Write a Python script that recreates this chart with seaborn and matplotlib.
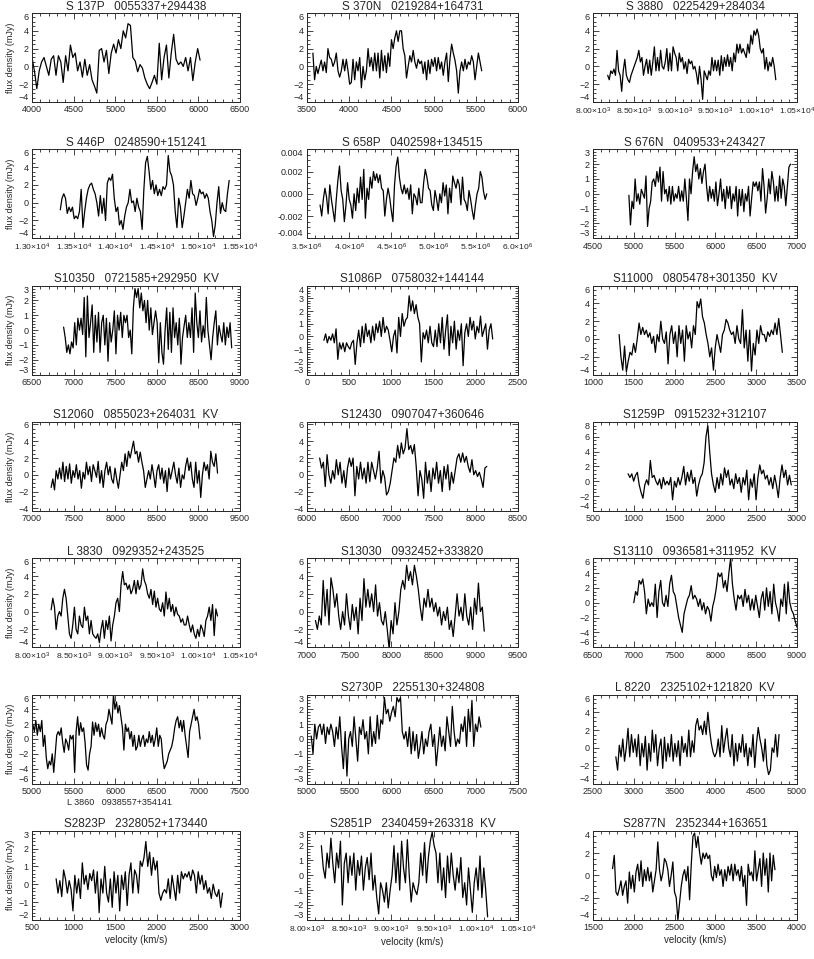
import numpy as np
import pandas as pd
import matplotlib
matplotlib.use('Agg')
import matplotlib.pyplot as plt
import seaborn as sns
from matplotlib.ticker import FuncFormatter, AutoMinorLocator, MultipleLocator, FormatStrFormatter

############## panel titles, velocity windows and axis ranges ##############

titles = ['S 137P   0055337+294438', 'S 370N   0219284+164731', 'S 3880   0225429+284034',
          'S 446P   0248590+151241', 'S 658P   0402598+134515', 'S 676N   0409533+243427',
          'S10350   0721585+292950  KV', 'S1086P   0758032+144144', 'S11000   0805478+301350  KV',
          'S12060   0855023+264031  KV', 'S12430   0907047+360646', 'S1259P   0915232+312107',
          'L 3830   0929352+243525', 'S13030   0932452+333820', 'S13110   0936581+311952  KV',
          'L 3860   0938557+354141', 'S2730P   2255130+324808', 'L 8220   2325102+121820  KV',
          'S2823P   2328052+173440', 'S2851P   2340459+263318  KV', 'S2877N   2352344+163651']

vel_start = [4000, 3570, 8180, 13340, 3.655e6, 4940, 6880, 200, 1320, 7230, 6150, 930,
             8230, 7100, 7000, 5010, 5050, 2780, 790, 8170, 1740]
vel_end = [6020, 5570, 10240, 15370, 5.63e6, 6920, 8900, 2200, 3320, 9230, 8130, 2930,
           10230, 9100, 9000, 7020, 7060, 4780, 2790, 10140, 3730]

xlims = [(4000, 6500), (3500, 6000), (8000, 10500), (13000, 15500), (3.5e6, 6.0e6), (4500, 7000),
         (6500, 9000), (0, 2500), (1000, 3500), (7000, 9500), (6000, 8500), (500, 3000),
         (8000, 10500), (7000, 9500), (6500, 9000), (5000, 7500), (5000, 7500), (2500, 5000),
         (500, 3000), (8000, 10500), (1500, 4000)]
ylims = [(-4, 6), (-4, 6), (-4, 6), (-4, 6), (-0.004, 0.004), (-3, 3),
         (-3, 3), (-3, 4), (-4, 6), (-4.3, 6.3), (-4.3, 6.3), (-4, 8),
         (-4, 6), (-4, 6), (-6, 6), (-6, 6), (-3, 3), (-4, 6),
         (-2, 3), (-3, 3), (-4, 4)]
ystep = [2, 2, 2, 2, 0.002, 1, 1, 1, 2, 2, 2, 2, 2, 2, 2, 2, 1, 2, 1, 1, 2]
# x tick style: 0 = plain, 2 = 'd.dd x10^n', 1 = 'd.d x10^n'
xsci = [0, 0, 2, 2, 1, 0, 0, 0, 0, 0, 0, 0, 2, 0, 0, 0, 0, 0, 0, 2, 0]

############## flux density values (mJy) ##############

flux_s137p = [1, -0.5, -2.5, -0.5, 0.5, 1, 0, -1, 0.8, 1.2, -1, 1.2, 0.5, -1.8, 1.2, -0.5, 2.4, 1, 1.5,
              -0.5, 0.5, -1.2, 0.8, -1, 0.2, -1.5, -2.2, -3, 1.8, 2, 0.5, 1.8, -0.8, 1.5, 2.5, 1.5, 3,
              2, 4, 3.2, 4.8, 4.6, 1, 0.6, -0.6, 0.2, -0.2, -1.3, -2, -2.5, -1.8, -1, -2, 2.6, -1.5, 1,
              2.4, -1.3, 1.5, 3.6, 0.8, 0.2, 0.5, 0, 1, -0.5, 1, -1.6, 0.5, 2, 0.7]
flux_s370n = [1.5, -1.5, 0, -0.8, 0, 0.7, -0.5, 0.5, -0.7, 2, 1, 0.8, 0, 0.5, 1.5, -0.5, -1.2, -0.5,
              0.8, -0.5, 0.8, -0.5, -2, -1.8, 0.8, -1.5, 0.5, -0.5, 1, -2.4, 0, -1.5, -0.5, 2, 0, 1,
              -0.5, 1.5, -0.5, 1.5, -1.3, 1.8, -0.5, 1.2, -0.7, 1.5, 0, 3, 2, 3.2, 4, 2.8, 4, 4, 2, 1.2,
              -1.3, 0, 1.2, 0.5, 1.8, 0.5, -0.2, 0.8, 0.3, 0.6, -0.8, 0.5, -1.5, 0.7, -0.8, 0.8, 0, 1,
              -0.5, 1, -0.3, 0.5, -1, 0.5, 1.5, -1.7, 0.8, 2.5, 1.5, 0.7, -0.5, -3, -0.5, 0.5, -0.5,
              0.8, -0.3, 0.5, 0.2, 1.2, 0.5, -1.5, 0, 1.5, 0.5, -0.5]
flux_s3880 = [-1, -1.5, -0.5, -0.8, -0.3, -1, 1.8, -0.5, -1, -2.8, -0.5, 0.8, -1, -1.5, -1.8, -1, -0.5,
              0, 0.5, 1, 1.8, 0.5, 1, -1, 0, 0.8, -0.8, 0.7, -1, 0.5, 2.2, -0.5, 1, -0.5, 1.8, 0, -0.3,
              0.5, 2, -0.5, 1.5, -0.5, 2.2, 1.5, 1, -0.5, 1.5, 0.5, 1, -0.3, 0.5, -0.8, 0.8, 0.3, 0.6,
              -0.3, 0, -0.8, -2, 0, -1.5, -3.7, -0.5, -1, -1.5, -0.5, -1, 1, -0.5, 0.7, -0.5, 0.7, -1,
              1.2, -0.5, 1, 0, 1.3, 0, 1, -0.5, 1.5, 0.5, 2.5, 1.5, 2.5, 1.5, 2, 1.5, 1, 2.5, 1.5, 3.5,
              2.5, 4, 3.5, 4.2, 3.5, 2, 1.5, 2, -0.3, 1, -0.5, 0.5, 0, 1, 0, -1.5]
flux_s446p = [-0.8, 0.5, 1, 0.5, -1.2, -0.5, -1, -0.5, -1.8, -1.5, -1.8, -1, 1.5, -2.8, -1, 0.5, 1.5, 2,
              2.2, 1.5, 1, 0, -1.5, 0.8, -1.2, 0.5, -2, 2.2, 2.8, 2.5, 3.2, 0.5, -1, -0.5, -2.5, -2, -3,
              -1.5, -0.5, 0, 1.5, 0, 0.2, -1, 0.5, -0.5, -1, -3, 1.5, 4.5, 5.2, 3.5, 1.5, 2.5, 1, 2, 0.8,
              1.5, 0.8, 1.8, 1.5, 2, 5.3, 3.5, 3, 2, -1, -2.8, 0.5, -0.5, -2.8, -1.5, 0, 1.5, 0.5, 2.5,
              1, 0.8, -0.3, 0.5, 1.5, 1, 1.2, 0.5, 1, 0.5, -1, -2, -3.8, -2.5, 0, 1.8, -1.2, 0, -0.8,
              -1, 1, 2.5]
flux_s658p_milli = [-1, -2, -0.5, 0.5, -0.3, -1.8, 0.8, -0.5, -1.5, -2.5, -0.5, 1.2, 2.5, 0.3, -0.5,
                    -2.5, -1, 1, -0.5, -1, -2.2, 0, -1.5, 0.5, -0.8, 1.5, -0.5, 2.2, -2.2, 0.5, -0.5,
                    1.5, 0.5, 2, 1.2, 1.8, 1, 1.7, 0.5, 0.3, -2, -0.5, 0.5, -0.3, -1.5, -2.5, 0.8, 2.5,
                    3.3, 1.5, 0.5, 0, 0.8, 0, 0.5, -0.5, 0.8, -1.8, 0, -0.3, -1, 0.5, -0.8, -0.8, 1,
                    2.2, 1.5, 0.5, 0.3, -1, -1.5, 0.3, -0.5, -1.5, 0, -0.8, 1, -0.2, 0.8, -1.8, 0.5,
                    -0.8, 1.6, 1, 0.5, 1.3, 0.8, -1, 1.5, -0.5, -0.8, -1.5, 0.3, -0.5, -1.5, -2.3, -1,
                    0, 0.5, 2, 1.5, 0.2, -0.5, 0]
flux_s676n = [-0.1, -2.1, -0.5, -1, 1, -0.5, 0, -0.7, 0.3, 0, -0.3, 1.2, -2.2, -1, -0.5, 0.8, 1, 0.5,
              1.5, 0.8, 1.8, -0.5, 1.5, 0, 0.3, -0.5, 0.5, -0.7, 0.5, -0.5, 0, -0.3, 0.5, -0.5, 0.2,
              -0.5, 1, -0.3, -1.8, 1, 0, 1.5, 2.5, 1.5, 2, 1, 1.7, 0.7, 1.5, 2, 0.5, -0.5, 0.5, -0.3,
              0.3, -0.5, 0.8, -0.8, 0, 1, -0.5, 0.3, -1, 0.5, -0.3, 0.5, -1, 0, -0.5, 0.5, -1.5, 0.3,
              -0.8, 0.3, -1.2, 0, -0.5, 0.5, -1.5, -0.3, 0.8, 0.5, 0.8, 0.2, 0.8, -0.5, 1.7, 0.5, -1.3,
              -0.3, 1, 0, 1.5, 0.8, -0.5, 0.5, -0.5, 1.2, -0.3, 1, 0.5, -0.8, 0.5, 1.8, 2]
flux_s10350 = [0.2, -0.5, -1.5, -1, -1.6, -0.8, -1.2, 0.5, -1, 0.8, 0, 0.8, -0.3, 2.2, -1.8, 2.3, -0.5,
               0.5, 1.7, -1.5, 1, -0.8, 1.2, -1.5, 0.5, 1, -1, 0.8, -2.1, 0.5, -0.8, 0, 1.3, -1.6, 1, 0,
               1.2, -0.5, 1, 0.5, 1, -0.5, 0, -1.6, 1.5, 2.8, 2.2, 2.8, 1.5, 2.5, 1.3, 2, 0.5, 2, 0, 1.5,
               -0.3, 0.5, 1.3, 0.5, -2.2, 0.5, -1.5, -2.3, 0, 1.5, -1.3, 1.2, -1.5, 1.5, -0.5, 0.5, -1,
               0.8, -2.3, -0.5, 0.3, 1, -0.5, 0.5, -0.5, 1.5, -1.5, 2.5, 0.5, -0.5, 1.3, -0.8, 0.3,
               -0.5, 2.2, 0, -1, -2, -0.5, 0.5, 1.3, -1, 0.3, -0.3, -0.8, 0.5, -1, 0.2, -0.5, 0.5, -1.2]
flux_s1086p = [-0.3, 0.2, -0.5, 0, -0.3, 0.2, -0.5, 0.6, -1.8, -0.5, -1, -0.5, -1.2, -0.5, -0.8, -1,
               -0.5, -0.3, -2.2, -0.5, 0.5, -0.8, 0.8, -0.5, 1, 0, 0.5, -0.5, 0.8, -0.3, 1, 0.3, 1.2, 0,
               1.5, 0.3, 0.8, 0.5, -0.3, -1.2, 0, 0.5, -1.3, 1.5, 0, 1.8, 0.8, 1.3, 1.5, 3.2, 2, 2.8,
               1.8, 2.5, 1.5, 1, -2, 0.3, -0.2, 0.5, -0.5, 0.8, -0.5, -0.8, 0.5, -0.8, 1, -0.5, 1.5, -1,
               0.5, 1.7, -1.5, 0.8, -0.5, 1.2, -1, 0.5, -0.3, 1, -2.3, 0.3, 1, 0, 1.5, 0.5, 1.2, -0.2,
               0.8, 0.3, 1.6, 0, 0.5, 1, -1, 0.5, 1, -0.2]
flux_s11000 = [0.5, -2, -3.5, -0.8, -3.7, -2.5, -1.5, -1.8, -0.5, -1.5, 0, 1.8, 0.5, 1.3, 0.5, 1, 0.2,
               0.7, -0.5, 0.3, -1.5, 0.5, -0.3, 2, 0, -0.5, 0.8, -2.8, 0.5, 1.5, -0.5, 0.8, -2, 1.5,
               -0.5, 1, -2.5, 1.5, 0, 0.8, -1, 1.5, 0.5, 4.2, 3.5, 4.5, 2.5, 1.8, 0.5, -0.5, -2, -1,
               -3.5, -1, 0.5, -0.5, -1.5, 0.5, 1, 2.2, 1.8, 1, 0.5, 0.8, -0.5, 1.5, 0, -0.5, 3.3, -1, 1,
               -2.5, 1, -3.6, -0.5, -1.8, 1, -0.5, 1.5, 0.5, 0.5, -0.3, 0.8, 0.3, 1, 0.5, 1.8, 0.5, 2.3,
               0.5, -1.5]
flux_s12060 = [-1.5, -0.5, -1.8, 0.5, -0.5, 0.8, -0.5, 1.5, -0.8, 1, -0.5, 1.3, -1, 0.5, -0.3, 1.2,
               -0.5, 0.5, -1.6, 0.3, -0.5, 1.5, 0, 1, -0.8, 1.2, 0.5, -0.3, 1.6, -1, 0.5, -1.5, 0.5, 1.5,
               0, 1, -0.5, -1, 0.8, -0.5, -1.6, 0, 1.5, 0.5, 2.5, 1, 2.8, 2, 3, 4, 2.5, 2.8, 1.5, 2.7,
               1.5, 0.5, -1.5, -0.5, 0.5, -0.5, 1.2, 0, -1.5, 0.5, 1.2, -0.5, 0.8, -1, 0.5, -2, 0.8,
               -0.5, 0.5, 1.5, 0, -1, 0.8, -1.5, 0, -0.5, 1, 2, 0.5, 1.5, -0.5, -1.5, 1.5, -1, 0.5, -2.7,
               0, 1.5, 0.5, 1.2, -0.5, 2.8, 1.5, 1, 2.5, 0.2]
flux_s12430 = [2, 0.8, 1.5, -1.4, 2.4, 0, -1, 0.5, -0.5, 1.8, 0, 1.5, -1, 0.5, -1.5, 0.8, 2, 1, 2,
               -2.5, 1, -0.5, 1.5, -0.5, 0.8, -1, 1.5, -0.8, 1.5, 0.5, -0.5, 0.8, 2.8, -1, 0.5, -0.3,
               -2.4, -2, -1, 0.5, 2, 1.5, 3.5, 2, 3.8, 2.5, 3.2, 5.5, 3, 3.5, 2.5, 3.6, 1, -2.5, 0.5,
               -0.5, -2.8, 1.5, -1, 0.5, -2, 0.8, -0.5, 1.5, -1, 0.5, -2, 1, -0.5, 1.2, -1.8, 0.3, -1,
               0.5, 2, 2.5, 1.5, 2.6, 1.5, 2.2, 1, 0.3, 1.8, 0, 0.5, -0.2, 0.3, -0.5, -1.5, 0.8, 1]
flux_s1259p = [1, 0.5, 1, 0, 0.8, 1.2, -0.5, -1.5, -2.3, -0.5, 0.2, -0.5, 2.8, 0.5, 0.8, 0, -0.5, 0.3,
               -1, 0.5, -0.5, 0, -0.5, 0.5, -2.5, 0, -0.8, 0.5, -0.5, 0.5, 2, -0.5, 1.2, 0, 1.5, -0.3,
               0.5, -2, -0.5, 0.5, 1, 2.5, 6, 7.5, 4, 1, -0.5, -1.5, 0.5, -1, 1, -0.5, 1.8, 0.5, 1.5,
               -0.5, 0.3, -1, 1, -0.3, 0.5, -1.5, 0.5, -0.5, 1.5, -2.5, 0.3, -0.8, 1, -2.5, 0.5, 2.2, 1,
               1.5, 0.3, 0.8, -0.5, 0.5, -1, 0.8, -0.5, -2.2, 0.5, 2.2, 0.5, 1.5, -0.5, 0.8, -0.5]
flux_l3830 = [0.2, 1.5, 0.5, -2, -0.5, 0, -0.5, 1.5, 2.5, 1.5, -0.5, -2.5, -3, -1.5, 0.5, -2, -2.5, -0.5,
              -1.5, -1.8, 0.5, -1, -0.5, -2.5, -1, -2.5, -2.8, -3, -2.5, -3.5, -2, -1, -3, -1, -2, -0.5,
              -3.3, -1.5, -0.5, 1, 1.5, 0, 3, 4.5, 3, 3.2, 2.5, 3, 2, 2.5, 3.5, 2, 3.5, 2.5, 3, 4.8,
              3.5, 3, 2, 1.5, 2.5, 0.8, 2.3, 0.5, 1.5, 0.3, 0, 1, -0.5, 2.2, 0.3, 1.5, 0, 0.8, -0.5,
              0.5, -0.3, -0.5, -1.2, -0.8, -1.5, -1.5, -0.5, -1.5, -2.3, -1.5, -2.5, -3, -2, -2.8,
              -1.5, -2, -2.8, -1, -0.5, 0.5, -1, 0.8, -2.7, 0.3, -0.5]
flux_s13030 = [-1, -2, -0.5, -1.5, 3.5, -0.5, 2.5, -1.5, 3.8, 2.5, 0.5, 2, -0.5, -2, 0, -1.5, 2, -0.5,
               -2, 0.8, -1, 0.5, -2.5, 1.5, -1, 3.7, 0.5, 2.5, 0.5, 2, 0, 3, -0.5, 1, -1, -1.5, 0, -2,
               -4.2, -1, -2.5, 1, -1.5, 0, 2.5, 3.5, 2.5, 5.2, 3.5, 4.5, 3, 5.2, 4, 2.5, 0.5, -1, 1.5,
               0.5, 2.5, 0.5, 1.5, 0, 1, -0.5, 0.5, -1.5, 0, -1, 0.5, -2, -1, -2.8, -0.5, 2, -0.5, 0.5,
               -1, 2, -0.5, -1.5, 0.5, -2, 1.5, -0.3, 3.2, 0, 0.5, -2.2]
flux_s13110 = [0, 1.5, 1, 3, 2.5, 3.2, 1.5, -1.5, 0.5, -0.5, 0, -0.5, 2.5, -2, 1.5, 3, 0, -0.5, 1, -0.5,
               2.5, 3.7, 1.5, 1, -0.5, -2, -3, -4, -1.5, -0.5, 0.5, 1, 2.3, 0.5, 1, 0.5, -0.5, 0.5, -1,
               0, -1.5, -0.5, -1, -2.5, -0.5, 0.5, 2, 4, 3.5, 4, 2, 3, 1.5, 4, 6, 2.5, 0.5, -1, 1, 0.5,
               1, -0.5, 1.8, 0, 1, -1, 0.5, -1, 1, -0.5, -2, 0.5, 1.5, -1, 2, -0.5, 1.5, -1.5, 2.5, 0,
               -1, -2.5, 0.5, -0.5, 2.5, -1.5, 2.8, 0, -1, -1.5, -2.5, -3.3]
flux_l3860 = [2, 1, 2.5, 0.5, 2, 1, 2.5, -1, 0.5, -2.5, -4, -3, -3.5, -2, -4.5, -2, 0.5, 1, 0.5, 1.5,
              -0.5, -1.8, 0, -0.5, -1.5, 0.5, 0, 0.5, -4.5, 1, 3, 0.5, 2.2, 1, 1.5, -0.5, -3.5, -4.2, -2,
              -1, 2.3, 0.5, 2.2, 1, 2, 0.3, 1.5, 0.5, 0, 2, 2.5, 4, 3, 2, 6, 4, 5, 3.5, 4.5, 3, 1.5,
              -1.5, 2, 1, 1.5, 0, 1, -1, 0.5, -1.5, -1, 0.5, -1, 0, 0.5, -1, 0, -0.5, 1, -0.5, 0.5, -1,
              0, 1.5, -1, 0.5, 0, -2.5, -4, -3.5, -3, -2, -1.5, -1, 0, 1.5, 2.5, 3, 1.5, 2.5, 1, 2.5,
              0.5, -1, -2.5, 1, 2, 3, 4, 2.5, 3, 2, 0]
flux_s2730p = [0.2, -1, 1, 0, 0.8, 1, 0.3, 1, -0.3, 0.8, 0.3, 1, 0.5, -0.5, 0.8, 0, 1.5, -0.5, -2, 0.5,
               -2.5, 0, 0.5, -0.5, 1.5, 0, -1.5, 0.8, 0.3, 1.3, 0, 0.5, -1, 1.5, -0.5, 0.5, -0.3, 1.6, 0,
               1.3, 1, 2.8, 1.7, 2, 1.2, 1.8, 2.2, 1.5, 2.8, 2.5, 2.8, 0.5, 0, 0.5, -0.5, 0.8, -1, 0.5,
               -0.8, 0.3, -1.3, -0.5, 0.5, -1, 0, -0.5, 0.5, 1, -0.5, 0.3, -1.8, -0.5, 0.8, -0.5, 0.2,
               -0.8, 1.5, 0.5, -0.5, 2.2, 0.5, -0.5, 0, -0.3, 1, 0.5, 1.5, -0.5, 2, 0.5, 2.6, -0.5, 1,
               0.5, 1.5, 0.8]
flux_l8220 = [-1, -2.5, 0.3, -1, 1, -1.5, 0, 2.2, -1, 1.5, -0.5, 1, -1, 1.5, -2, 0.5, -1, 1.3, -2.5,
              0.5, -1.5, 2, -0.5, 1.5, -2, 0, 1, -2.3, 1.2, -1.5, 0.5, -1, 1.5, -1.5, 0.5, -1, 0.8, -2,
              1.3, -0.5, 0.5, -1, 2, -1, 0.8, -0.5, 2.5, 3.3, 2, 2.5, 1.5, 3, 1.5, 4, 2, 0.5, -0.5, -1,
              -0.5, 1, -1, 2.5, -0.5, 1, 2.2, 0, -1, 1.5, -2, 0.5, -1.5, 0.5, -0.5, 1.5, -1, 0.5, -2, 0,
              -1, 1.5, -2.2, 0.5, 2.3, 1, 0, -1.5, 1, -2, -3, -2.5, 0, -0.5, 1.5, -1, 1.5]
flux_s2823p = [0.3, -0.5, 0.2, -0.7, 0.8, 0.3, -0.5, 0.2, -0.3, -1.5, 0.5, -0.5, 0.3, -0.8, 1.2, 0, 0.5,
               -0.3, 0.6, 0.2, 0.8, -0.5, 0.7, -1.6, 0.3, -0.5, 1, -0.5, -1, 0.3, -1.3, 0.7, -0.5, 0.5,
               -1.5, 0.5, -0.3, 0.7, -1.2, 0.5, 1.2, -0.5, 0.8, 0.5, -0.5, 1.3, 1, 1.5, 2.4, 1, 1.8,
               0.5, 1.5, 0.8, 1.3, -0.5, -0.9, -0.5, -0.3, -0.5, 0.3, -0.8, 0.5, -0.2, -0.9, 0.5, -0.5,
               0.7, 0.3, 0.6, 0.4, 0.7, 0.2, 0.8, 0.5, -0.5, 0.7, 0, 0.5, -0.3, 0.2, -0.5, -0.2, -0.8,
               0, -0.5, -0.7, -0.3, -1.3, -0.5]
flux_s2851p = [2, 0.5, -0.2, 1.5, 0.5, 2.5, 0.8, -0.5, 1.5, 0.5, 2.3, -2, 0.8, 1.5, -0.5, 1.3, 0, 1.5,
               -1, 1, 0, 1.3, -1, 0.5, 1.2, -0.3, 1.5, -1, 0, -1.5, -2.6, -0.5, -1, -1.8, -0.5, -2.2, -1,
               0, 2, -0.5, 1.5, -1, 2.3, 0.5, -0.5, 2.4, 0, -1.8, -0.5, -1, -1.3, -0.5, 1.5, 0, 2.2,
               -0.5, 1.2, 2.3, 2.9, 2, 1.5, -0.5, 1.5, -1, 0.5, -1.5, 1.3, -0.5, 1.5, 0, -1, 0.5, -0.5,
               1.2, -1.5, -0.5, -2, 0.5, -1, -2.5, -0.5, 0.5, -1, 1.3, -1.5, 0.5, -1, -2.8]
flux_s2877n = [0.6, 1.8, -1.5, -1.8, -1.2, -0.5, -1.8, -1, -0.5, -2.5, 0.3, -1.2, 0, -1.5, 0.3, 1, -0.5,
               1.3, -1, 0.5, -0.5, 0.7, -0.5, 0.3, -1.5, -0.5, 0.5, 3, 0.5, -0.5, 0.2, 1.5, 1.2, 0.5, -1,
               0, 1.2, -1.5, -2, -4, -2.5, -1, 0, 0.5, -0.5, 0.8, -2.2, 1, 3.5, 3.8, 2.5, 3.5, 2, 1, 2,
               1.5, 2, 1.5, 1.8, 0, -0.5, 0.8, -0.2, 1, 0, 0.5, -1, 0.5, -0.5, 0.8, 0, 1, -0.5, 1, 0,
               0.5, -0.5, 0.8, -1, 0, -2.7, 1, 0, 0.3, -0.5, 2.2, -0.5, 0.5, 1.5, -1, 2, 0, 1.5, -1.5, 2,
               -0.5, 1.8, 0.5]

fluxes = [flux_s137p, flux_s370n, flux_s3880, flux_s446p, [v * 1e-3 for v in flux_s658p_milli],
          flux_s676n, flux_s10350, flux_s1086p, flux_s11000, flux_s12060, flux_s12430, flux_s1259p,
          flux_l3830, flux_s13030, flux_s13110, flux_l3860, flux_s2730p, flux_l8220, flux_s2823p,
          flux_s2851p, flux_s2877n]

##################### plotting #####################

sns.set_style('ticks')
plt.rcParams['font.family'] = ['Liberation Sans', 'DejaVu Sans']
plt.rcParams['mathtext.fontset'] = 'custom'
plt.rcParams['mathtext.rm'] = 'Liberation Sans'
plt.rcParams['mathtext.it'] = 'Liberation Sans'
plt.rcParams['axes.linewidth'] = 0.7


def sci_formatter(nd):
    def fmt(v, pos):
        e = int(np.floor(np.log10(abs(v)) + 1e-9))
        m = v / 10 ** e
        return r'$%.*f{\times}10^{%d}$' % (nd, m, e)
    return FuncFormatter(fmt)


W, H = 814, 959
col_left = [32, 307, 593]
col_width = [208, 211, 204]
fig = plt.figure(figsize=(W / 100, H / 100), dpi=100)
all_axes = []

for i in range(21):
    r, c = divmod(i, 3)
    top = 13 + 136.3 * r
    ax = fig.add_axes([col_left[c] / W, 1 - (top + 89) / H, col_width[c] / W, 89 / H])
    vel = np.linspace(vel_start[i], vel_end[i], len(fluxes[i]))
    df = pd.DataFrame({'velocity': vel, 'flux': fluxes[i]})
    sns.lineplot(data=df, x='velocity', y='flux', ax=ax, color='black', linewidth=0.9,
                 estimator=None, sort=False)
    ax.set_xlim(xlims[i])
    lo, hi = ylims[i]
    ax.set_ylim(lo, hi)
    xs = xlims[i][1] - xlims[i][0]
    ax.xaxis.set_major_locator(MultipleLocator(xs / 5))
    st = ystep[i]
    yt = np.arange(np.ceil(lo / st - 1e-9) * st, hi + st * 0.01, st)
    ax.set_yticks(yt)
    ax.xaxis.set_minor_locator(AutoMinorLocator(5))
    ax.yaxis.set_minor_locator(AutoMinorLocator())
    if xsci[i]:
        ax.xaxis.set_major_formatter(sci_formatter(xsci[i]))
    if i == 4:
        ax.yaxis.set_major_formatter(FormatStrFormatter('%.3f'))
    ax.tick_params(which='both', direction='in', top=True, right=True, width=0.6,
                   labelsize=6.5, pad=2.5)
    if xsci[i]:
        ax.tick_params(axis='x', labelsize=6.1)
    ax.tick_params(which='major', length=4)
    ax.tick_params(which='minor', length=2)
    for s in ax.spines.values():
        s.set_linewidth(0.7)

    if i == 15:
        # this one has its name printed under the axis
        ax.set_title('')
        ax.text(0.42, -0.215, titles[i], transform=ax.transAxes, ha='center', va='center',
                fontsize=6.5)
    else:
        ax.set_title(titles[i], fontsize=8.5, pad=2.5)

    if c == 0:
        ax.set_ylabel('flux density (mJy)', fontsize=6.5, labelpad=2)
    else:
        ax.set_ylabel('')
    if r == 6:
        ax.set_xlabel('velocity (km/s)', fontsize=7, labelpad=2)
    else:
        ax.set_xlabel('')
    all_axes.append((ax, yt, lo, hi))

# keep the end labels of the y axis inside the box, as in the original layout
fig.canvas.draw()
for ax, yt, lo, hi in all_axes:
    labs = ax.get_yticklabels()
    if abs(yt[0] - lo) < 1e-12:
        labs[0].set_verticalalignment('bottom')
    if abs(yt[-1] - hi) < 1e-12:
        labs[-1].set_verticalalignment('top')

fig.savefig('out.png', dpi=100)
